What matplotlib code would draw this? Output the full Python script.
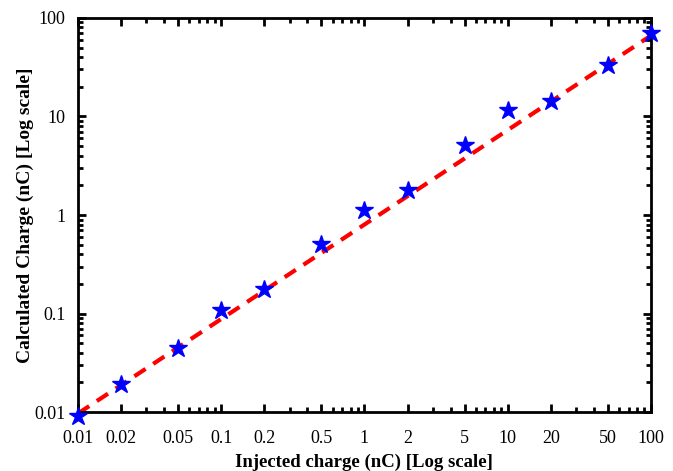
import numpy as np
import matplotlib.pyplot as plt
from matplotlib.ticker import FixedLocator, LogLocator, NullFormatter

plt.rcParams['font.family'] = ['Liberation Serif', 'DejaVu Serif']

# data
injected = [0.01, 0.02, 0.05, 0.1, 0.2, 0.5, 1, 2, 5, 10, 20, 50, 100]
calculated = [0.0092, 0.0195, 0.045, 0.108, 0.178, 0.51, 1.12, 1.78, 5.1, 11.6, 14.3, 33.5, 70]
fit_x = [0.01, 100]
fit_y = [0.0097, 66]

xticks = [0.01, 0.02, 0.05, 0.1, 0.2, 0.5, 1, 2, 5, 10, 20, 50, 100]
xlabels = ['0.01', '0.02', '0.05', '0.1', '0.2', '0.5', '1', '2', '5', '10', '20', '50', '100']
yticks = [0.01, 0.1, 1, 10, 100]
ylabels = ['0.01', '0.1', '1', '10', '100']

fig = plt.figure(figsize=(6.73, 4.71), dpi=100)
ax = fig.add_axes([0.116, 0.125, 0.851, 0.837])

ax.plot(fit_x, fit_y, color='#ff0000', linestyle=(0, (3.2, 2.2)), linewidth=3, zorder=2)
ax.plot(injected, calculated, linestyle='none', marker='*', markersize=13.5,
        color='#0000ff', markeredgecolor='#0000ff', zorder=3, clip_on=False)

ax.set_xscale('log')
ax.set_yscale('log')
ax.set_xlim(0.01, 100)
ax.set_ylim(0.01, 100)

ax.xaxis.set_major_locator(FixedLocator(xticks))
ax.set_xticklabels(xlabels)
ax.xaxis.set_minor_locator(LogLocator(base=10, subs=[3, 4, 6, 7, 8, 9]))
ax.xaxis.set_minor_formatter(NullFormatter())
ax.yaxis.set_major_locator(FixedLocator(yticks))
ax.set_yticklabels(ylabels)
ax.yaxis.set_minor_locator(LogLocator(base=10, subs=range(2, 10)))
ax.yaxis.set_minor_formatter(NullFormatter())

ax.tick_params(which='both', direction='in', top=True, right=True, labelsize=13, width=2)
ax.tick_params(which='major', length=6)
ax.tick_params(axis='x', which='major', pad=13)
ax.tick_params(axis='y', which='major', pad=9)
ax.tick_params(which='minor', length=3.5)
for s in ax.spines.values():
    s.set_linewidth(2)

ax.set_xlabel('Injected charge (nC) [Log scale]', fontsize=13.5, fontweight='bold', labelpad=5)
ax.set_ylabel('Calculated Charge (nC) [Log scale]', fontsize=14, fontweight='bold', labelpad=0)

fig.savefig('out.png', dpi=100)
